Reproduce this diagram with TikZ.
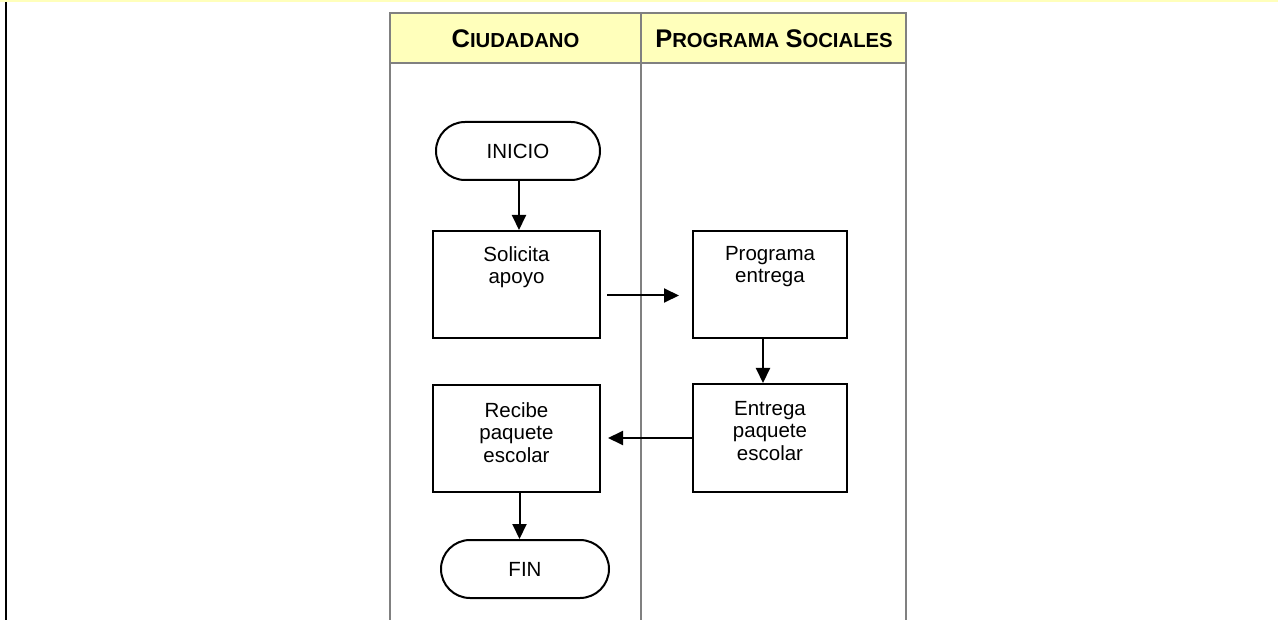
\documentclass[tikz,border=0pt]{standalone}
\usepackage{fontspec}
\setmainfont{Liberation Sans}
\usetikzlibrary{shapes.misc,arrows.meta}
\definecolor{hdr}{RGB}{255,255,187}
\definecolor{gridgray}{RGB}{128,128,128}
\newcommand{\scapx}[2]{{\fontsize{25.5}{26}\selectfont #1}{\fontsize{20.3}{26}\selectfont #2}}
\begin{document}
\begin{tikzpicture}[x=1pt,y=-1pt,
  procbox/.style={draw=black,line width=2pt,inner sep=0pt,minimum height=107pt},
  termbox/.style={draw=black,line width=2pt,rounded rectangle,inner sep=0pt,minimum height=58pt,font=\fontsize{20.5}{23}\selectfont},
  txt/.style={inner sep=0pt,align=center,font=\fontsize{20.5}{22.5}\selectfont},
  hdrtxt/.style={inner sep=0pt,font=\fontsize{22}{26}\selectfont\bfseries},
  lane/.style={draw=gridgray,line width=2pt},
  arr/.style={draw=black,line width=2pt,-{Triangle[length=15pt,width=14pt]}}]
\useasboundingbox (0,0) rectangle (1278,620);
\fill[white] (0,0) rectangle (1278,620);
% page frame
\fill[hdr] (0,0) rectangle (1278,2.2);
\draw[black,line width=2.2pt] (6,2) -- (6,620);
% swimlane table
\fill[hdr] (390,13) rectangle (906,63);
\draw[lane] (390,620) -- (390,13) -- (906,13) -- (906,620);
\draw[lane] (641,13) -- (641,620);
\draw[lane] (390,63) -- (906,63);
\node[hdrtxt,anchor=base] (h1) at (515.5,48) {\scapx{C}{IUDADANO}};
\node[hdrtxt,anchor=base] (h2) at (774,48) {\scapx{P}{ROGRAMA} \scapx{S}{OCIALES}};
% nodes
\node[termbox,minimum width=164pt] (ini) at (518,151) {INICIO};
\node[procbox,minimum width=167pt] (s1) at (516.5,284.5) {};
\node[txt,anchor=north] (s1t) at ([yshift=-16pt]s1.north) {Solicita\\apoyo};
\node[procbox,minimum width=154pt] (p1) at (770,284.5) {};
\node[txt,anchor=north] (p1t) at ([yshift=-16pt]p1.north) {Programa\\entrega};
\node[procbox,minimum width=154pt,minimum height=108pt] (p2) at (770,438) {};
\node[txt,anchor=north] (p2t) at ([yshift=-18pt]p2.north) {Entrega\\paquete\\escolar};
\node[procbox,minimum width=167pt] (r1) at (516.5,438.5) {};
\node[txt,anchor=north] (r1t) at ([yshift=-18pt]r1.north) {Recibe\\paquete\\escolar};
\node[termbox,minimum width=168pt] (fin) at (525,569) {FIN};
% connectors
\draw[arr] ([xshift=1pt]ini.south) -- ([xshift=1pt]ini.south |- s1.north);
\draw[arr] ([shift={(6,11)}]s1.east) -- ([shift={(-13,11)}]p1.west);
\draw[arr] ([xshift=-7pt]p1.south) -- ([xshift=-7pt]p2.north);
\draw[arr] (p2.west) -- ([xshift=7pt]r1.east |- p2.west);
\draw[arr] ([xshift=3pt]r1.south) -- ([xshift=3pt]r1.south |- fin.north);
\end{tikzpicture}
\end{document}
